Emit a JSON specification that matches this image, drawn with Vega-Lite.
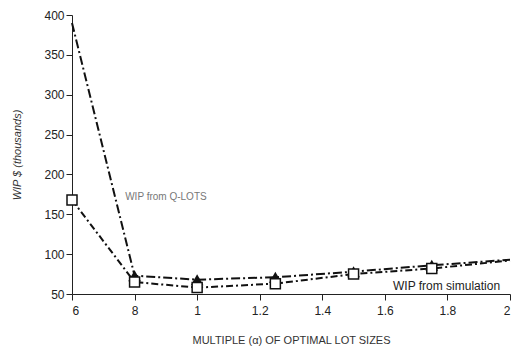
{
  "$schema": "https://vega.github.io/schema/vega-lite/v6.json",
  "width": 438,
  "height": 279,
  "autosize": {"type": "none"},
  "padding": {"left": 72, "top": 15, "right": 5, "bottom": 55},
  "background": "white",
  "config": {
    "view": {"stroke": null},
    "font": "Liberation Sans",
    "axis": {"grid": false, "domainColor": "#222", "tickColor": "#222", "labelColor": "#222", "titleColor": "#333", "labelFont": "Liberation Sans", "titleFont": "Liberation Sans", "titleFontWeight": "normal", "labelFontSize": 12, "titleFontSize": 11}
  },
  "datasets": {
    "series": [
      {"x": 0.6, "y": 390, "s": "Q-LOTS", "m": 0},
      {"x": 0.8, "y": 73, "s": "Q-LOTS", "m": 1},
      {"x": 1.0, "y": 68, "s": "Q-LOTS", "m": 1},
      {"x": 1.25, "y": 71, "s": "Q-LOTS", "m": 1},
      {"x": 1.5, "y": 78, "s": "Q-LOTS", "m": 1},
      {"x": 1.75, "y": 86, "s": "Q-LOTS", "m": 1},
      {"x": 2.0, "y": 93, "s": "Q-LOTS", "m": 0},
      {"x": 0.6, "y": 168, "s": "Simulation", "m": 1},
      {"x": 0.8, "y": 65, "s": "Simulation", "m": 1},
      {"x": 1.0, "y": 58, "s": "Simulation", "m": 1},
      {"x": 1.25, "y": 63, "s": "Simulation", "m": 1},
      {"x": 1.5, "y": 75, "s": "Simulation", "m": 1},
      {"x": 1.75, "y": 82, "s": "Simulation", "m": 1},
      {"x": 2.0, "y": 92, "s": "Simulation", "m": 0}
    ],
    "labels": [
      {"x": 0.77, "y": 172, "t": "WIP from Q-LOTS", "k": "q"},
      {"x": 1.626, "y": 60, "t": "WIP from simulation", "k": "s"}
    ]
  },
  "encoding": {
    "x": {"field": "x", "type": "quantitative", "scale": {"domain": [0.6, 2], "nice": false, "zero": false},
      "axis": {"values": [0.6, 0.8, 1, 1.2, 1.4, 1.6, 1.8, 2], "labelOverlap": false, "labelExpr": "replace(format(datum.value, '.1~f'), '0.', '')", "title": "MULTIPLE (α) OF OPTIMAL LOT SIZES", "titlePadding": 18, "labelPadding": 5, "tickSize": 6}},
    "y": {"field": "y", "type": "quantitative", "scale": {"domain": [50, 400], "nice": false, "zero": false},
      "axis": {"values": [50, 100, 150, 200, 250, 300, 350, 400], "labelOverlap": false, "title": "WIP $ (thousands)", "titleFontStyle": "italic", "titlePadding": 21, "tickSize": 6}}
  },
  "layer": [
    {
      "data": {"name": "series"},
      "transform": [{"filter": "datum.s == 'Q-LOTS'"}],
      "mark": {"type": "line", "color": "#111", "strokeWidth": 2, "strokeDash": [9, 3, 2, 3]}
    },
    {
      "data": {"name": "series"},
      "transform": [{"filter": "datum.s == 'Simulation'"}],
      "mark": {"type": "line", "color": "#111", "strokeWidth": 2, "strokeDash": [7, 3, 2, 3]}
    },
    {
      "data": {"name": "series"},
      "transform": [{"filter": "datum.s == 'Q-LOTS' && datum.m == 1"}],
      "mark": {"type": "point", "shape": "triangle-up", "filled": true, "color": "#111", "size": 160, "opacity": 1}
    },
    {
      "data": {"name": "series"},
      "transform": [{"filter": "datum.s == 'Simulation' && datum.m == 1"}],
      "mark": {"type": "point", "shape": "square", "filled": true, "fill": "white", "stroke": "#111", "strokeWidth": 1.5, "size": 100, "opacity": 1}
    },
    {
      "data": {"name": "labels"},
      "transform": [{"filter": "datum.k == 'q'"}],
      "mark": {"type": "text", "align": "left", "baseline": "middle", "fontSize": 10, "color": "#777"},
      "encoding": {"text": {"field": "t"}}
    },
    {
      "data": {"name": "labels"},
      "transform": [{"filter": "datum.k == 's'"}],
      "mark": {"type": "text", "align": "left", "baseline": "middle", "fontSize": 12, "color": "#222"},
      "encoding": {"text": {"field": "t"}}
    }
  ]
}
